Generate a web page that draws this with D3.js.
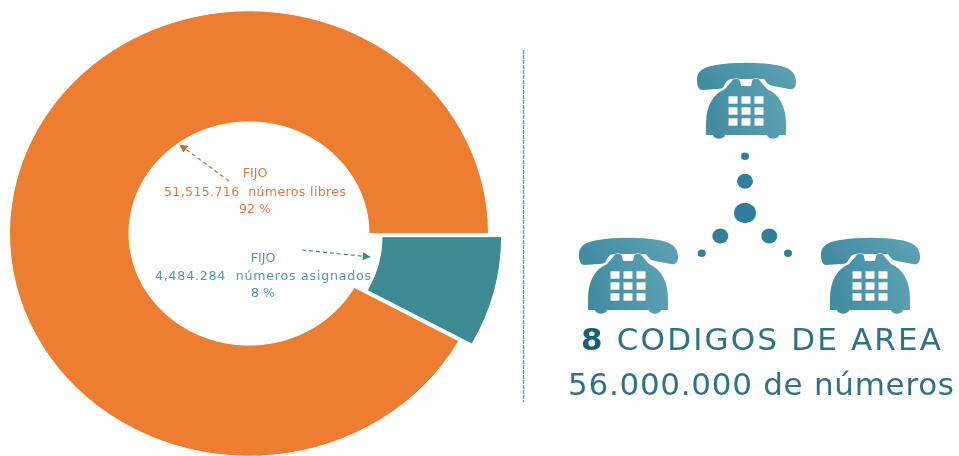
<!DOCTYPE html>
<html><head><meta charset="utf-8">
<script src="https://cdn.jsdelivr.net/npm/d3@7"></script>
<style>html,body{margin:0;padding:0;background:#fff;overflow:hidden}svg{display:block}text{font-family:"DejaVu Sans",sans-serif;filter:url(#soft)}</style>
</head><body><svg id="c" width="959" height="456"></svg>
<script>
const categories = ["números asignados", "números libres"];
const values = [4484284, 51515716];
const shares = ["8 %", "92 %"];
const valueLabels = ["4,484.284", "51,515.716"];
const colors = ["#3e8a92", "#ed7d31"];
const textColors = ["#4f9ba8", "#e07a42"];
const arrowColors = ["#3e8a92", "#c4682b"];
const titleBold = "8";
const titleRest = "CODIGOS DE AREA";
const subtitle = "56.000.000 de números";

const svg = d3.select("#c");
const defs = svg.append("defs");
defs.append("filter").attr("id","soft").attr("x","-5%").attr("y","-20%").attr("width","110%").attr("height","140%")
  .append("feGaussianBlur").attr("stdDeviation",0.3);
const grad = defs.append("linearGradient").attr("id","ph").attr("x1","0").attr("x2","1").attr("y1","0.2").attr("y2","0");
grad.append("stop").attr("offset","0").attr("stop-color","#438da3");
grad.append("stop").attr("offset","1").attr("stop-color","#5fa3b5");
arrowColors.forEach((c,i)=>{
  defs.append("marker").attr("id","m"+i).attr("viewBox","0 0 10 10").attr("refX",9).attr("refY",5)
    .attr("markerWidth",9).attr("markerHeight",8).attr("markerUnits","userSpaceOnUse").attr("orient","auto")
    .append("path").attr("d","M0,0L10,5L0,10Z").attr("fill",c);
});

// donut (source picture is squeezed slightly in height)
const donut = svg.append("g").attr("transform","translate(249,233.5) scale(1,0.93)");
const pie = d3.pie().sort(null).startAngle(Math.PI/2).endAngle(Math.PI/2+2*Math.PI);
const arc = d3.arc().innerRadius(120).outerRadius(239.5);
const explode = 13.5;
donut.selectAll("path").data(pie(values)).join("path")
  .attr("d",arc)
  .attr("fill",(d,i)=>colors[i])
  .attr("stroke","#fff").attr("stroke-width",1)
  .attr("transform",(d,i)=>{
    if(i!==0) return null;
    const a=(d.startAngle+d.endAngle)/2-Math.PI/2;
    return `translate(${explode*Math.cos(a)},${explode*Math.sin(a)})`;
  });

// labels
const labelPos = [{x:263,y:[262,280,297]},{x:255,y:[177,196,213]}];
labelPos.forEach((p,i)=>{
  const lines=["FIJO", valueLabels[i]+"\u00a0\u00a0"+categories[i], shares[i]];
  lines.forEach((t,j)=>svg.append("text").attr("x",p.x).attr("y",p.y[j]).attr("text-anchor","middle")
    .attr("font-size",12.6).attr("fill",textColors[i]).attr("textLength",j===1?(i===0?216:182):null).text(t));
});
svg.append("line").attr("x1",302).attr("y1",250).attr("x2",370).attr("y2",257)
  .attr("stroke",arrowColors[0]).attr("stroke-width",1.2).attr("stroke-dasharray","4 3").attr("marker-end","url(#m0)");
svg.append("line").attr("x1",229).attr("y1",181).attr("x2",180).attr("y2",145)
  .attr("stroke",arrowColors[1]).attr("stroke-width",1.2).attr("stroke-dasharray","4 3").attr("marker-end","url(#m1)");

// divider
svg.append("line").attr("x1",523.5).attr("x2",523.5).attr("y1",50).attr("y2",402)
  .attr("stroke","#4f9db0").attr("stroke-width",1.4).attr("stroke-dasharray","4 1");

// telephone icons
const handset="M-49,19C-50,9 -42,5 -30,3C-12,0 12,0 30,3C42,5 50,9 50,20C50,26 47,28 43,27L27,24C22,23 20,20 18,17L-14,17C-18,17 -20,20 -22,24C-24,27 -26,27 -30,27L-44,28C-47,28 -49,24 -49,19Z";
const body="M-40,73L-40,62C-40,44 -33,32 -21,27L-14,19C-13,16 -7,16 -6,19L-5,24L5,24L6,19C7,16 13,16 14,19L21,27C33,32 40,44 40,62L40,73L33,73C32,78 22,78 21,73L-21,73C-22,78 -32,78 -33,73Z";
const phones=[[746,62],[628,237],[870,237]];
const keyX=[-13,0,13], keyY=[38,49,60];
phones.forEach(([x,y])=>{
  const g=svg.append("g").attr("transform",`translate(${x},${y})`);
  g.append("path").attr("d",handset).attr("fill","url(#ph)");
  g.append("path").attr("d",body).attr("fill","url(#ph)").attr("stroke","#fff").attr("stroke-width",1.2).attr("paint-order","stroke");
  keyY.forEach(ky=>keyX.forEach(kx=>g.append("rect").attr("x",kx-4.5).attr("y",ky-3.7).attr("width",9).attr("height",7.4).attr("fill","#fff")));
});
const dots=[[745,156.3,4],[745,181.3,8],[745,213,11],[720.3,236,8],[769.3,236,8],[701.7,253.3,4],[788,253.3,4]];
svg.selectAll("ellipse").data(dots).join("ellipse")
  .attr("cx",d=>d[0]).attr("cy",d=>d[1]).attr("rx",d=>d[2]).attr("ry",d=>d[2]*0.93).attr("fill","#30809c");

// headline
const t1=svg.append("text").attr("x",581).attr("y",350).attr("font-size",31).attr("fill","#2f7288").attr("textLength",360);
t1.append("tspan").attr("font-weight",700).attr("fill","#1f5f78").text(titleBold);
t1.append("tspan").text(" "+titleRest);
svg.append("text").attr("x",568).attr("y",395).attr("font-size",31).attr("fill","#2f7288").attr("textLength",386).text(subtitle);
</script></body></html>
